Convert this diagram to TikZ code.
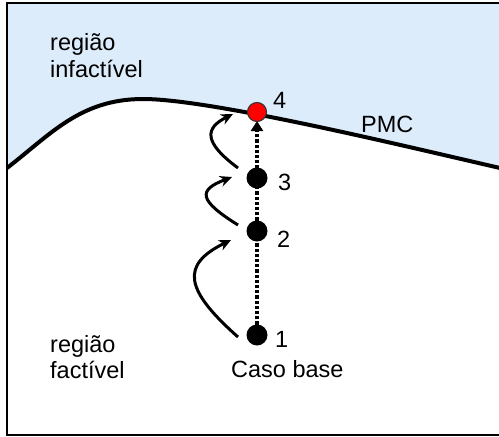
\documentclass[tikz,border=0pt]{standalone}
\usepackage{fontspec}
\setmainfont{Liberation Sans}
\usetikzlibrary{arrows.meta}
\definecolor{infeas}{RGB}{221,236,251}
\definecolor{pmcred}{RGB}{255,0,0}
\tikzset{
  lbl/.style={anchor=base west, inner sep=0pt, font=\fontsize{23.5}{28}\selectfont},
  dotnode/.style={circle, fill=black, inner sep=0pt, minimum size=21pt},
  reddot/.style={circle, fill=pmcred, draw=black!80, line width=1.1pt, inner sep=0pt, minimum size=19pt},
  steparrow/.style={line width=3pt, -{Stealth[length=12pt,width=11pt]}},
  dottedline/.style={line width=4pt, dash pattern=on 3.2pt off 2pt},
  tiparrow/.style={line width=3pt, -{Triangle[length=10pt,width=12pt]}},
}
\begin{document}
\begin{tikzpicture}[x=1pt,y=-1pt]
\useasboundingbox (0,0) rectangle (499,437);
\begin{scope}
\clip (0,0) rectangle (499,437);
% infeasible region fill
\fill[infeas] (7,3) -- (7,168) .. controls (50,135) and (80,99) .. (143,99)
  .. controls (210,99) and (400,145) .. (500,168) -- (500,3) -- cycle;
% PMC curve
\draw[line width=4pt] (7,168) .. controls (50,135) and (80,99) .. (143,99)
  .. controls (210,99) and (400,145) .. (500,168);
% frame
\draw[line width=2.4pt] (7,3) rectangle (502,435);
\end{scope}

% points
\coordinate (p1) at (257,335);
\coordinate (p2) at (257,231);
\coordinate (p3) at (257,178);
\coordinate (p4) at (257,112);
\coordinate (tipbase) at (257,131);
\coordinate (tip) at (257,121);

% dotted path from 1 to 4
\draw[dottedline] (p1) -- (tipbase);
\draw[tiparrow] (tipbase) -- (tip);

\node[dotnode] (n1) at (p1) {};
\node[dotnode] (n2) at (p2) {};
\node[dotnode] (n3) at (p3) {};
\node[reddot] (n4) at (p4) {};

% curved step arrows
\coordinate (a1s) at (238,337);
\coordinate (a1e) at (231,240);
\coordinate (a2s) at (238,225);
\coordinate (a2e) at (232,177);
\coordinate (a3s) at (238,168);
\coordinate (a3e) at (233,114);
\draw[steparrow] (a1s) .. controls (185,290) and (180,265) .. (a1e);
\draw[steparrow] (a2s) .. controls (198,200) and (198,190) .. (a2e);
\draw[steparrow] (a3s) .. controls (203,142) and (205,128) .. (a3e);

% labels
\node[lbl] (l1) at (275,347) {1};
\node[lbl] (l2) at (277,247) {2};
\node[lbl] (l3) at (278,190) {3};
\node[lbl] (l4) at (273,108) {4};
\node[lbl] (pmc) at (361,132) {PMC};
\node[lbl] (base) at (231,377) {Caso base};
\node[lbl] (inf1) at (50,50) {região};
\node[lbl] (inf2) at (50,77) {infactível};
\node[lbl] (fea1) at (50,352) {região};
\node[lbl] (fea2) at (50,378) {factível};
\end{tikzpicture}
\end{document}
